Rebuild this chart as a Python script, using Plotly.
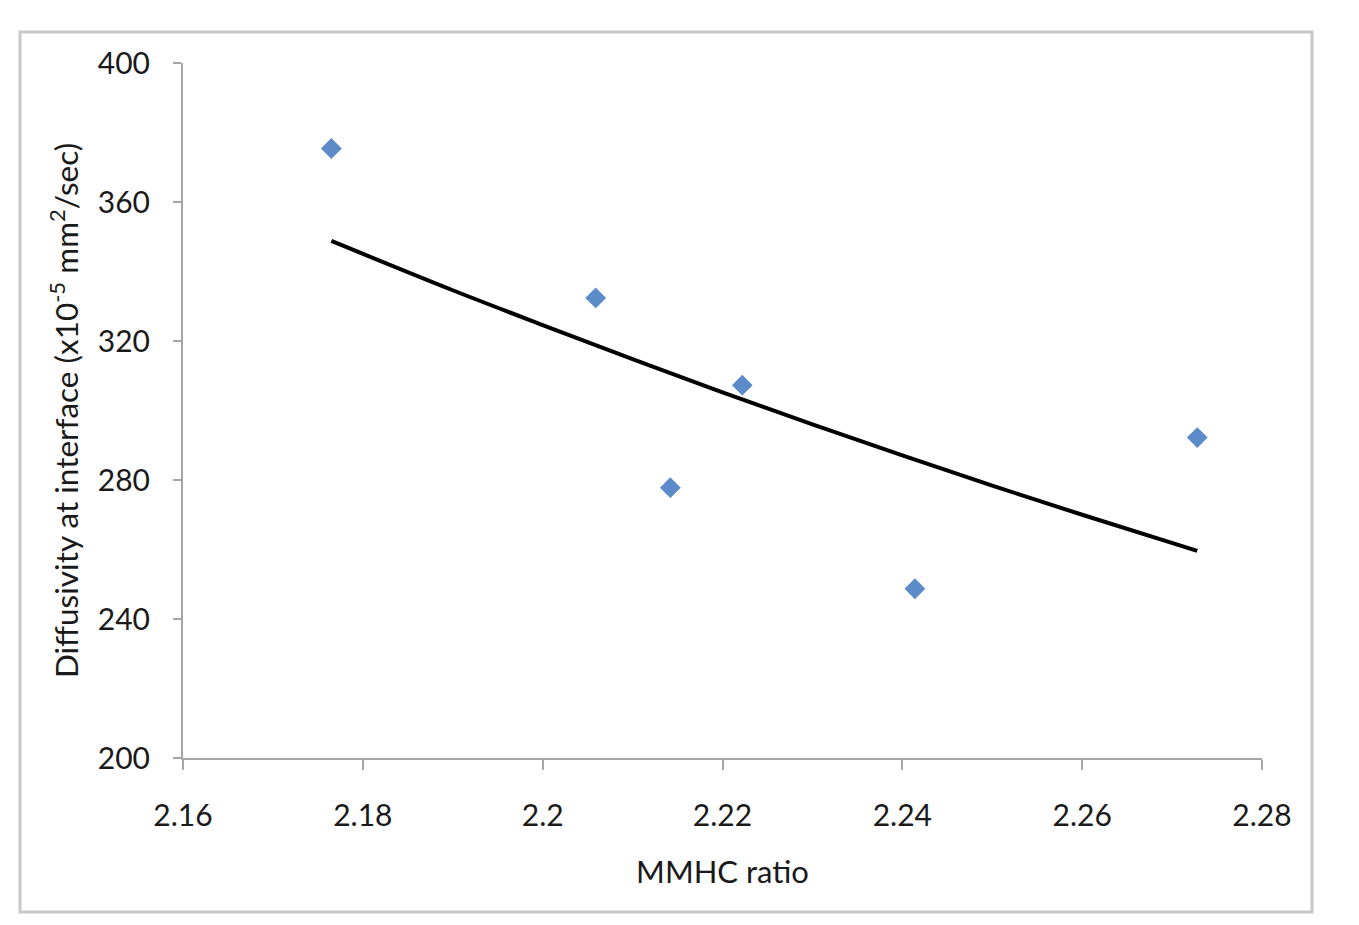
import plotly.graph_objects as go

# Data
mmhc_ratio = [2.1765, 2.2059, 2.2142, 2.2222, 2.2414, 2.2728]
diffusivity = [375.4, 332.4, 277.8, 307.3, 248.7, 292.2]

# Trend line values
trend_x = [2.1765, 2.19, 2.2, 2.21, 2.22, 2.23, 2.24, 2.25, 2.26, 2.2728]
trend_y = [348.8, 334.6, 324.6, 314.8, 305.2, 296.0, 287.1, 278.4, 270.0, 259.6]

x_ticks = [2.16, 2.18, 2.2, 2.22, 2.24, 2.26, 2.28]
x_tick_labels = ["2.16", "2.18", "2.2", "2.22", "2.24", "2.26", "2.28"]
y_ticks = [200, 240, 280, 320, 360, 400]

FONT = "Lato, 'Open Sans', sans-serif"
AXIS_COLOR = "#a6a6a6"

fig = go.Figure()
fig.add_trace(go.Scatter(
    x=trend_x, y=trend_y, mode="lines",
    line=dict(color="black", width=4, shape="spline"),
    showlegend=False, hoverinfo="skip",
))
fig.add_trace(go.Scatter(
    x=mmhc_ratio, y=diffusivity, mode="markers",
    marker=dict(symbol="diamond", size=16, color="#5b8bc9"),
    showlegend=False,
))

fig.update_layout(
    width=1359, height=925, autosize=False,
    margin=dict(l=183, r=97, t=63, b=167),
    paper_bgcolor="white", plot_bgcolor="white",
    font=dict(family=FONT, size=30, color="#1a1a1a"),
    xaxis=dict(
        range=[2.16, 2.28], tickvals=x_ticks, ticktext=x_tick_labels,
        showgrid=False, zeroline=False, showline=True, linecolor=AXIS_COLOR, linewidth=2,
        ticks="outside", ticklen=10, tickcolor=AXIS_COLOR, tickwidth=2,
        ticklabelstandoff=20,
        tickfont=dict(size=30, family=FONT),
        title=dict(text="MMHC ratio", font=dict(size=31, family=FONT), standoff=30),
    ),
    yaxis=dict(
        range=[200, 400], tickvals=y_ticks,
        showgrid=False, zeroline=False, showline=True, linecolor=AXIS_COLOR, linewidth=2,
        ticks="outside", ticklen=8, tickcolor=AXIS_COLOR, tickwidth=2,
        ticklabelstandoff=17,
        tickfont=dict(size=30, family=FONT),
        title=dict(text="Diffusivity at interface (x10<sup>-5</sup> mm<sup>2</sup>/sec)",
                   font=dict(size=31.5, family=FONT), standoff=10),
    ),
    shapes=[
        dict(type="rect", xref="paper", yref="paper",
             x0=(20 - 183) / 1079, x1=(1312 - 183) / 1079,
             y0=-(912 - 758) / 695, y1=1 + (63 - 32) / 695,
             line=dict(color="#c8c8c8", width=3), fillcolor="rgba(0,0,0,0)", layer="below"),
    ],
)

fig.write_html("out.html")
